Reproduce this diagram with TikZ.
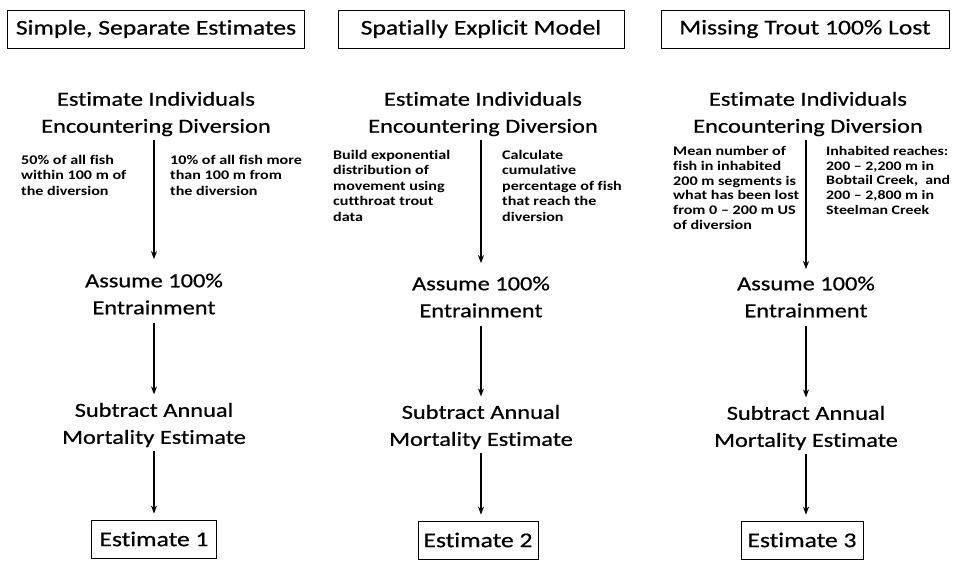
\documentclass[tikz,border=0pt]{standalone}
\usepackage{fontspec}
\setmainfont{Carlito}[FakeStretch=1.22,Ligatures=NoCommon]
\newfontfamily\headfont{Carlito}[FakeStretch=1.22,FakeBold=0.6,Ligatures=NoCommon]
\usetikzlibrary{arrows.meta}
\begin{document}
\begin{tikzpicture}[x=1pt,y=-1pt,
    titlebox/.style={draw,thick,minimum height=38pt,font=\fontsize{21}{24}\headfont},
    heading/.style={align=center,font=\fontsize{20}{27}\headfont},
    note/.style={align=left,anchor=north west,inner sep=0pt,font=\fontsize{13.2}{15.5}\selectfont\bfseries},
    endbox/.style={draw,thick,minimum height=38pt,font=\fontsize{21}{24}\headfont},
    link/.style={-{Stealth[length=8pt,width=6pt]},line width=1.1pt}]
  \useasboundingbox (0,0) rectangle (954,562);
  % column headers
  \draw
    (156,29) node[titlebox,minimum width=297pt] (t1){Simple, Separate Estimates}
    (481,29) node[titlebox,minimum width=286pt] (t2){Spatially Explicit Model}
    (805,29) node[titlebox,minimum width=288pt] (t3){Missing Trout 100\% Lost};
  % first step
  \draw
    (156,114) node[heading] (ind1){Estimate Individuals\\Encountering Diversion}
    (483,114) node[heading] (ind2){Estimate Individuals\\Encountering Diversion}
    (808,114) node[heading] (ind3){Estimate Individuals\\Encountering Diversion};
  \draw
    (21,155) node[note] (n1a){50\% of all fish\\within 100 m of\\the diversion}
    (170,155) node[note] (n1b){10\% of all fish more\\than 100 m from\\the diversion}
    (333,150) node[note] (n2a){Build exponential\\distribution of\\movement using\\cutthroat trout\\data}
    (502,150) node[note] (n2b){Calculate\\cumulative\\percentage of fish\\that reach the\\diversion}
    (673,146) node[note,font=\fontsize{13.2}{14.8}\selectfont\bfseries] (n3a){Mean number of\\fish in inhabited\\200 m segments is\\what has been lost\\from 0 -- 200 m US\\of diversion}
    (826,146) node[note,font=\fontsize{13}{14.8}\selectfont\bfseries] (n3b){Inhabited reaches:\\200 -- 2,200 m in\\Bobtail Creek,\ \ and\\200 -- 2,800 m in\\Steelman Creek};
  % later steps
  \draw
    (154,294) node[heading] (ass1){Assume 100\%\\Entrainment}
    (481,297) node[heading] (ass2){Assume 100\%\\Entrainment}
    (806,297) node[heading] (ass3){Assume 100\%\\Entrainment}
    (154,425) node[heading] (sub1){Subtract Annual\\Mortality Estimate}
    (481,427) node[heading] (sub2){Subtract Annual\\Mortality Estimate}
    (806,428) node[heading] (sub3){Subtract Annual\\Mortality Estimate}
    (154,539) node[endbox,minimum width=125pt] (e1){Estimate 1}
    (478,540) node[endbox,minimum width=120pt] (e2){Estimate 2}
    (802,540) node[endbox,minimum width=122pt] (e3){Estimate 3};
  \begin{scope}[link]
    \draw (ass1.north |- ind1.south) -- ([yshift=11pt]ass1.north);
    \draw (ass2.north |- ind2.south) -- ([yshift=10pt]ass2.north);
    \draw (ass3.north |- ind3.south) -- ([yshift=4pt]ass3.north);
    \draw[shorten <=5pt,shorten >=5pt] (ass1) -- (sub1);
    \draw[shorten <=5pt,shorten >=5pt] (ass2) -- (sub2);
    \draw[shorten <=5pt,shorten >=5pt] (ass3) -- (sub3);
    \draw[shorten >=6pt] (sub1.south) -- (sub1.south |- e1.north);
    \draw[shorten >=6pt] (sub2.south) -- (sub2.south |- e2.north);
    \draw[shorten >=6pt] (sub3.south) -- (sub3.south |- e3.north);
  \end{scope}
\end{tikzpicture}
\end{document}
